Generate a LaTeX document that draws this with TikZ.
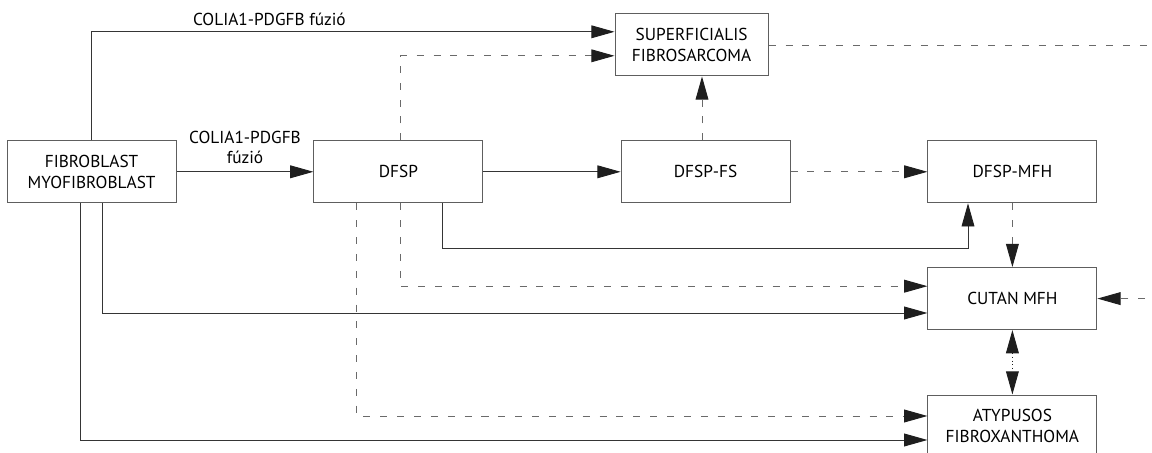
\documentclass[tikz,border=0pt]{standalone}
\usepackage{fontspec}
\setmainfont{PT Sans}
\usepackage{tikz}
\usetikzlibrary{arrows.meta,positioning}
\definecolor{ink}{HTML}{1E1E1E}
\definecolor{frame}{HTML}{5E5E5E}
\definecolor{soft}{HTML}{6A6A6A}

\begin{document}
\begin{tikzpicture}[font=\fontsize{12.3}{14.5}\selectfont,
    box/.style={draw=frame, line width=0.7pt, minimum width=4.225cm, minimum height=1.55cm,
                align=center, inner sep=2pt},
    tip/.style={-{Triangle[length=5.8mm, width=3.2mm, color=ink]}},
    link/.style={tip, draw=ink!90, line width=0.65pt},
    maybe/.style={tip, draw=soft, line width=0.65pt, dash pattern=on 5pt off 7pt},
    both/.style={{Triangle[length=5.8mm, width=3.2mm, color=ink]}-{Triangle[length=5.8mm, width=3.2mm, color=ink]},
                 draw=ink, line width=0.65pt, dotted}]
  \useasboundingbox (0,0) rectangle (28.8,11.325);
  \clip (0,0) rectangle (28.8,11.325);

  \node[box] (fib) at (2.29,7.03) {FIBROBLAST\\MYOFIBROBLAST};
  \node[box] (dfsp) at (9.96,7.03) {DFSP};
  \node[box] (fs) at (17.64,7.03) {DFSP-FS};
  \node[box] (mfh) at (25.31,7.03) {DFSP-MFH};
  \node[box, minimum width=3.83cm] (sup) at (17.29,10.2) {SUPERFICIALIS\\FIBROSARCOMA};
  \node[box] (cut) at (25.31,3.86) {CUTAN MFH};
  \node[box] (atf) at (25.31,0.675) {ATYPUSOS\\FIBROXANTHOMA};
  \coordinate (offr) at (29.4,0);

  \draw[link] (fib.north) |- node[pos=0.67, above=1pt] {COLIA1-PDGFB fúzió} ([yshift=0.33cm]sup.west);
  \draw[link] (fib.east) -- node[above, align=center, yshift=2pt] {COLIA1-PDGFB\\fúzió} (dfsp.west);
  \draw[link] (dfsp.east) -- (fs.west);
  \draw[link] ([xshift=1.11cm]dfsp.south) -- ++(0,-1.125) -| ([xshift=-1.11cm]mfh.south);
  \draw[link] ([xshift=0.26cm]fib.south) |- ([yshift=-0.36cm]cut.west);
  \draw[link] ([xshift=-0.29cm]fib.south) |- ([yshift=-0.35cm]atf.west);

  \draw[maybe] ([xshift=0.04cm]dfsp.north) |- ([yshift=-0.27cm]sup.west);
  \draw[maybe] ([xshift=-0.09cm]fs.north) -- ([xshift=-0.09cm]fs.north |- sup.south);
  \draw[maybe] (fs.east) -- (mfh.west);
  \draw[maybe] (mfh.south) -- (cut.north);
  \draw[maybe] ([xshift=0.04cm]dfsp.south) |- ([yshift=0.31cm]cut.west);
  \draw[maybe] ([xshift=-1.04cm]dfsp.south) |- ([yshift=0.25cm]atf.west);
  \draw[maybe] (sup.east) -- (sup.east -| offr) -- (cut.east -| offr) -- (cut.east);

  \draw[both] (cut.south) -- (atf.north);
\end{tikzpicture}
\end{document}
